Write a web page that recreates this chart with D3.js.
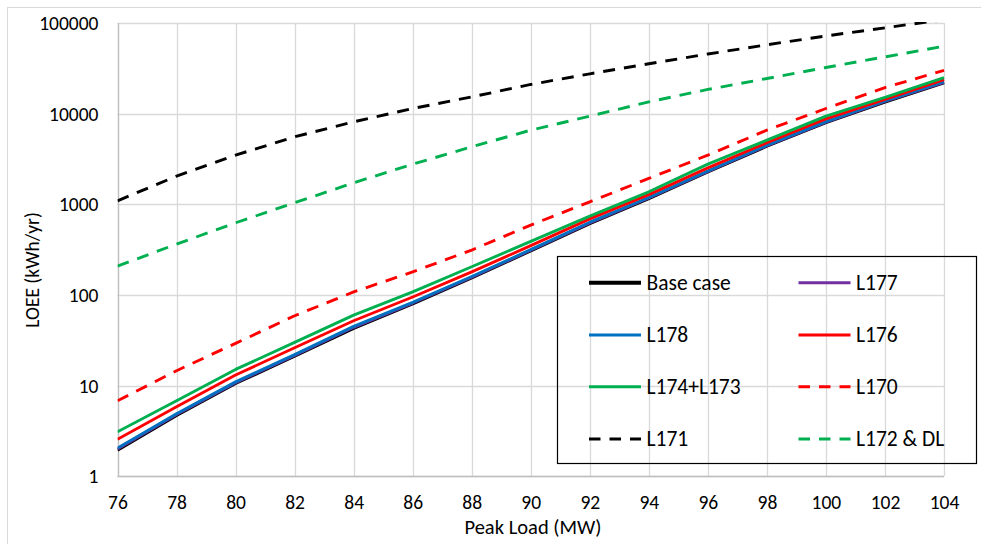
<!DOCTYPE html>
<html>
<head>
<meta charset="utf-8">
<script src="https://cdn.jsdelivr.net/npm/d3@7"></script>
<style>
  html, body { margin: 0; padding: 0; background: #fff; }
  svg { display: block; }
  text { font-family: Carlito, Lato, "Open Sans", sans-serif; fill: #000; }
</style>
</head>
<body>
<svg id="chart" width="981" height="544"></svg>
<script>
// ---- data ----
const peakLoad = [76, 78, 80, 82, 84, 86, 88, 90, 92, 94, 96, 98, 100, 102, 104];
const baseCase = [1.95, 4.7, 10.6, 21.2, 43, 80, 155, 308, 616, 1160, 2280, 4390, 8000, 13500, 21900];
const l177 = [2.0, 4.8, 10.8, 21.6, 44, 81.5, 157, 312, 625, 1175, 2305, 4430, 8070, 13650, 22200];
const l178 = [2.05, 4.9, 11.0, 22.0, 45, 83, 160, 316, 635, 1190, 2330, 4480, 8150, 13800, 22500];
const l176 = [2.56, 5.85, 13.1, 26.2, 52, 95, 180, 350, 690, 1280, 2520, 4780, 8750, 14400, 23800];
const l174l173 = [3.1, 6.8, 15.1, 30, 60, 108, 205, 390, 740, 1374, 2773, 5100, 9380, 15100, 25000];
const l170 = [6.8, 14.6, 29.3, 59, 108, 180, 313, 590, 1066, 1930, 3490, 6580, 11400, 19400, 30000];
const l171 = [1093, 2047, 3490, 5550, 8130, 11400, 15300, 21000, 27500, 35500, 45500, 57500, 72000, 88500, 109000];
const l172dl = [208, 364, 625, 1040, 1726, 2773, 4305, 6580, 9380, 13500, 18500, 24400, 32300, 42300, 55500];

const xTicks = [76, 78, 80, 82, 84, 86, 88, 90, 92, 94, 96, 98, 100, 102, 104];
const yTicks = [1, 10, 100, 1000, 10000, 100000];
const seriesNames = ["Base case", "L177", "L178", "L176", "L174+L173", "L170", "L171", "L172 & DL"];
const seriesValues = [baseCase, l177, l178, l176, l174l173, l170, l171, l172dl];
const seriesColors = ["#000000", "#7030A0", "#0070C0", "#FF0000", "#00B050", "#FF0000", "#000000", "#00B050"];
const seriesDashed = [false, false, false, false, false, true, true, true];
const xTitle = "Peak Load (MW)";
const yTitle = "LOEE (kWh/yr)";

// ---- layout ----
const svg = d3.select("#chart");
const pLeft = 117.5, pRight = 944, pTop = 23, pBottom = 476.3;

const x = d3.scaleLinear().domain([76, 104]).range([pLeft, pRight]);
const y = d3.scaleLog().domain([1, 100000]).range([pBottom, pTop]);

// outer chart border
svg.append("rect").attr("x", 7.5).attr("y", 7.5).attr("width", 1000).attr("height", 600)
  .attr("fill", "#fff").attr("stroke", "#d9d9d9").attr("stroke-width", 1);

// gridlines
const grid = svg.append("g");
grid.selectAll("line.v").data(xTicks).join("line")
  .attr("x1", d => Math.round(x(d)) + 0.5).attr("x2", d => Math.round(x(d)) + 0.5)
  .attr("y1", pTop).attr("y2", pBottom)
  .attr("stroke", "#d9d9d9").attr("stroke-width", 1.3);
grid.selectAll("line.h").data(yTicks).join("line")
  .attr("x1", pLeft).attr("x2", pRight)
  .attr("y1", d => Math.round(y(d)) + 0.5).attr("y2", d => Math.round(y(d)) + 0.5)
  .attr("stroke", "#d9d9d9").attr("stroke-width", 1.3);

// axis lines
svg.append("line").attr("x1", Math.round(pLeft) + 0.5).attr("x2", Math.round(pLeft) + 0.5)
  .attr("y1", pTop).attr("y2", pBottom + 0.5).attr("stroke", "#bfbfbf").attr("stroke-width", 1.3);
svg.append("line").attr("x1", pLeft).attr("x2", pRight)
  .attr("y1", Math.round(pBottom) + 0.5).attr("y2", Math.round(pBottom) + 0.5)
  .attr("stroke", "#bfbfbf").attr("stroke-width", 1.3);

// axes (labels only)
const xAxis = d3.axisBottom(x).tickValues(xTicks).tickSize(0).tickPadding(0).tickFormat(d3.format("d"));
const gx = svg.append("g").attr("transform", `translate(0,${pBottom})`).call(xAxis);
gx.select(".domain").remove();
gx.selectAll("text").attr("font-size", 19.5).attr("dy", null).attr("y", 33)
  .style("font-family", "Carlito, Lato, sans-serif").attr("fill", "#000");

const yAxis = d3.axisLeft(y).tickValues(yTicks).tickSize(0).tickPadding(0).tickFormat(d3.format("d"));
const gy = svg.append("g").attr("transform", `translate(${pLeft - 19},0)`).call(yAxis);
gy.select(".domain").remove();
gy.selectAll("text").attr("font-size", 19.5).attr("dy", "0.33em")
  .style("font-family", "Carlito, Lato, sans-serif").attr("fill", "#000");

// titles
svg.append("text").attr("x", 533).attr("y", 534)
  .attr("text-anchor", "middle").attr("font-size", 20.5).text(xTitle);
svg.append("text").attr("transform", `translate(39,270) rotate(-90)`)
  .attr("text-anchor", "middle").attr("font-size", 19.5).text(yTitle);

// clip
svg.append("clipPath").attr("id", "plotclip").append("rect")
  .attr("x", pLeft).attr("y", pTop - 1).attr("width", pRight - pLeft + 2).attr("height", pBottom - pTop + 1);

const line = d3.line().x((d, i) => x(peakLoad[i])).y(d => y(d)).curve(d3.curveLinear);
const gLines = svg.append("g").attr("clip-path", "url(#plotclip)");
seriesValues.forEach((vals, i) => {
  gLines.append("path").datum(vals)
    .attr("d", line)
    .attr("fill", "none")
    .attr("stroke", seriesColors[i])
    .attr("stroke-width", i === 0 ? 3.3 : 2.9)
    .attr("stroke-dasharray", seriesDashed[i] ? "12,9" : null)
    .attr("stroke-linejoin", "round");
});

// legend
const lg = svg.append("g");
lg.append("rect").attr("x", 557.5).attr("y", 256.5).attr("width", 419).attr("height", 207)
  .attr("fill", "none").attr("stroke", "#000").attr("stroke-width", 1.2);
const colX = [589, 798.5];
const rowY = [282.7, 335, 386.7, 439];
seriesNames.forEach((name, i) => {
  const cx = colX[i % 2];
  const cy = rowY[Math.floor(i / 2)];
  lg.append("line").attr("x1", cx).attr("x2", cx + 52).attr("y1", cy).attr("y2", cy)
    .attr("stroke", seriesColors[i]).attr("stroke-width", i === 0 ? 4 : 3)
    .attr("stroke-dasharray", seriesDashed[i] ? "11.5,9" : null);
  lg.append("text").attr("x", cx + 57.5).attr("y", cy).attr("dy", "0.34em")
    .attr("font-size", 21.5).text(name);
});
</script>
</body>
</html>
